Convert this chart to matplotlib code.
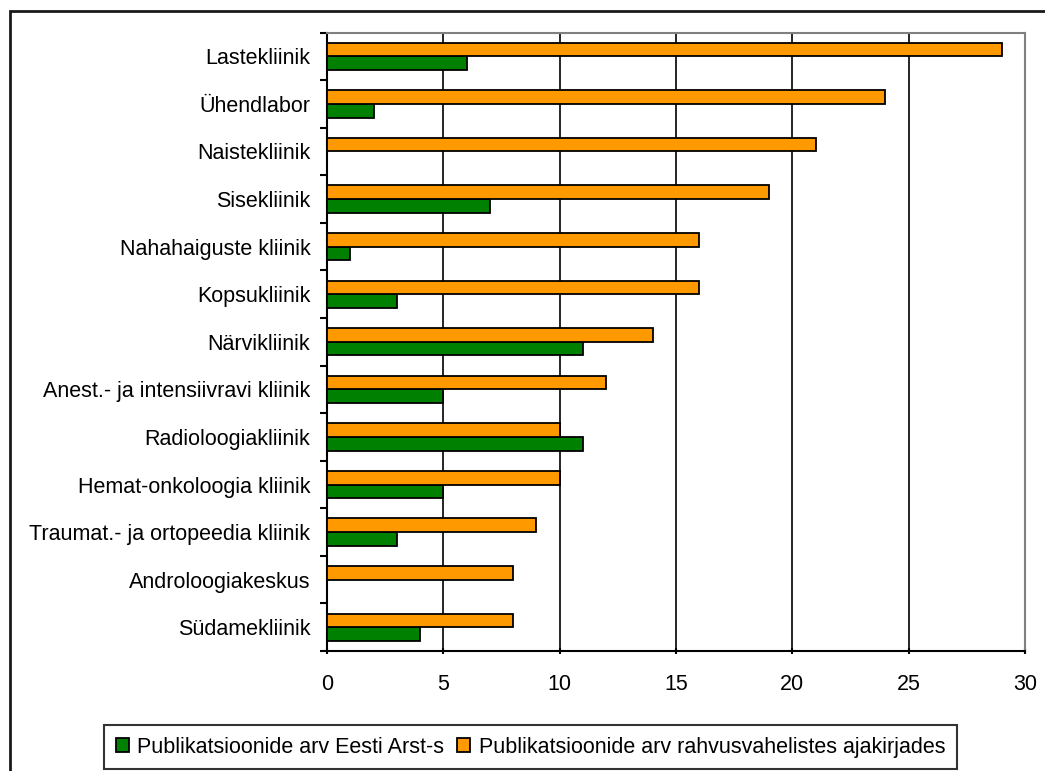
import numpy as np
import matplotlib
matplotlib.use("Agg")
import matplotlib.pyplot as plt
from matplotlib.patches import Rectangle

plt.rcParams['font.family'] = ['Liberation Sans', 'DejaVu Sans']

# andmed
kliinikud = ["Lastekliinik", "Ühendlabor", "Naistekliinik", "Sisekliinik",
             "Nahahaiguste kliinik", "Kopsukliinik", "Närvikliinik",
             "Anest.- ja intensiivravi kliinik", "Radioloogiakliinik",
             "Hemat-onkoloogia kliinik", "Traumat.- ja ortopeedia kliinik",
             "Androloogiakeskus", "Südamekliinik"]
eesti_arst = [6, 2, 0, 7, 1, 3, 11, 5, 11, 5, 3, 0, 4]
rahvusvaheline = [29, 24, 21, 19, 16, 16, 14, 12, 10, 10, 9, 8, 8]
xticks = [0, 5, 10, 15, 20, 25, 30]

lbl_eesti = "Publikatsioonide arv Eesti Arst-s"
lbl_rahv = "Publikatsioonide arv rahvusvahelistes ajakirjades"

fig = plt.figure(figsize=(10.45, 7.71), dpi=100)
ax = fig.add_axes([0.3129, 0.1556, 0.9809 - 0.3129, 0.9578 - 0.1556])

y = np.arange(len(kliinikud))
h = 0.288
ax.barh(y + h / 2, eesti_arst, height=h, color="#008000", edgecolor="black",
        linewidth=1.3, label=lbl_eesti, zorder=3)
ax.barh(y - h / 2, rahvusvaheline, height=h, color="#FF9900", edgecolor="black",
        linewidth=1.3, label=lbl_rahv, zorder=3)

ax.set_xlim(0, 30)
ax.set_ylim(len(kliinikud) - 0.5, -0.5)
ax.set_xticks(xticks)
ax.set_xticklabels([str(t) for t in xticks], fontsize=15.5)
ax.set_yticks(y)
ax.set_yticklabels(kliinikud, fontsize=15.5)
ax.set_yticks(np.arange(-0.5, len(kliinikud)), minor=True)
ax.tick_params(axis="y", which="major", length=0, pad=12)
ax.tick_params(axis="y", which="minor", length=5, width=1.5, direction="out")
ax.tick_params(axis="x", length=5, width=1.5, direction="inout", pad=14)

# ruudustik
for t in xticks[1:-1]:
    ax.axvline(t, color="black", linewidth=1.2, zorder=1)

ax.spines["left"].set_linewidth(1.5)
ax.spines["bottom"].set_linewidth(1.5)
ax.spines["top"].set_color("#808080")
ax.spines["right"].set_color("#808080")
ax.spines["top"].set_linewidth(1.5)
ax.spines["right"].set_linewidth(1.5)

# legend - roheline enne
handles, labels = ax.get_legend_handles_labels()
leg = fig.legend(handles, labels, loc="center", bbox_to_anchor=(0.5077, 0.0311),
                 ncol=2, fontsize=15.5, frameon=True, fancybox=False,
                 edgecolor="black", handlelength=0.6, handleheight=0.6,
                 handletextpad=0.4, columnspacing=0.6, borderpad=0.55,
                 borderaxespad=0)
leg.get_frame().set_linewidth(1.5)

# välimine raam
fig.patches.append(Rectangle((10 / 1045, -0.1), 1.2, 1 - 11 / 771 + 0.1,
                             transform=fig.transFigure, fill=False,
                             edgecolor="#1a1a1a", linewidth=2))

fig.savefig("out.png", dpi=100)
